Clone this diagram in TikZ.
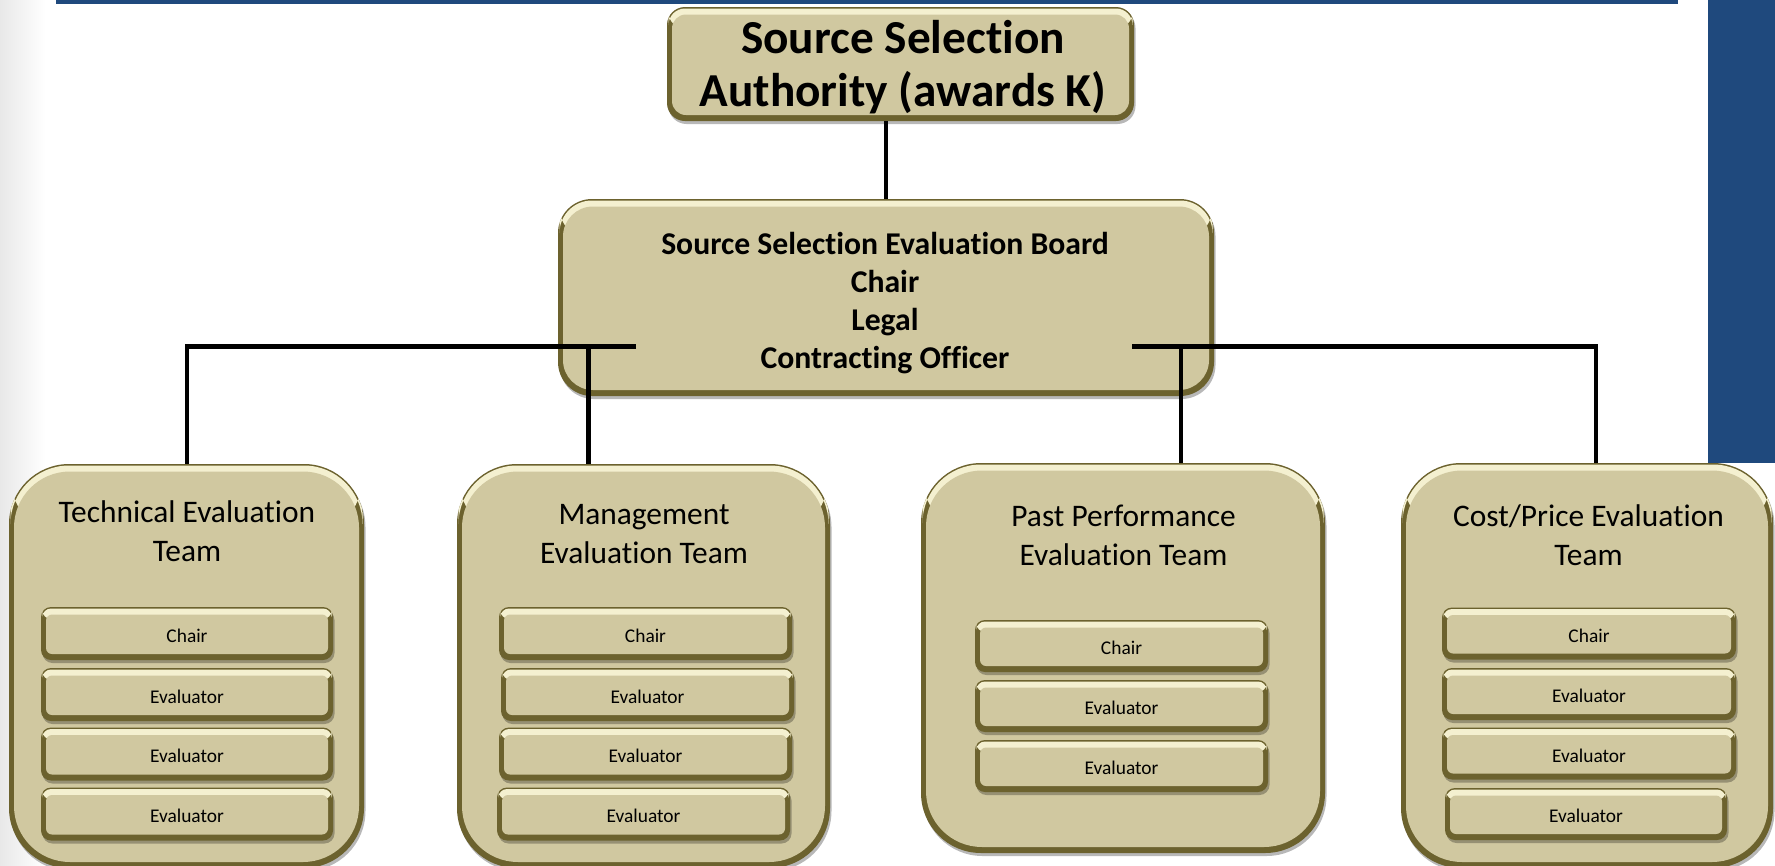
\documentclass[tikz,border=0pt]{standalone}
\usepackage{fontspec}
\setmainfont{Carlito}[Ligatures={NoCommon,NoContextual}]
\usetikzlibrary{shadows,calc}
\definecolor{tanfill}{RGB}{208,200,160}
\definecolor{edgeol}{RGB}{108,98,46}
\definecolor{hilite}{RGB}{244,240,208}
\definecolor{navy}{RGB}{31,73,125}
\tikzset{
  bevel/.style n args={3}{% #1 radius, #2 width, #3 height
    shape=rectangle, rounded corners=#1, minimum width=#2, minimum height=#3,
    inner sep=0pt, outer sep=0pt, fill=edgeol,
    drop shadow={shadow xshift=1.5pt, shadow yshift=-3pt, opacity=0.28, fill=black},
    path picture={
      \fill[hilite, rounded corners={#1-1.5pt}]
        ($(path picture bounding box.north west)+(1.5pt,-1.5pt)$) rectangle
        ($(path picture bounding box.north east)+(-1.5pt,{-min(1.2*#1,#3-8pt)})$);
      \fill[tanfill, rounded corners={#1-4pt}]
        ($(path picture bounding box.south west)+(5pt,6pt)$) rectangle
        ($(path picture bounding box.north east)+(-5pt,-7.5pt)$);
    }},
  conn/.style={line width=4.8pt, line join=miter, draw=black},
  ssafont/.style={font=\fontsize{47.3pt}{53pt}\selectfont\bfseries, align=center, inner sep=0pt},
  ssebfont/.style={font=\fontsize{31.7pt}{38pt}\selectfont\bfseries, align=center, inner sep=0pt},
  teamfont/.style={font=\fontsize{31.4pt}{38.5pt}\selectfont, align=center, inner sep=0pt},
  subbox/.style 2 args={bevel={10pt}{#1}{#2}, font=\fontsize{19.4pt}{23.7pt}\selectfont,
    text height=22pt, text depth=5pt},
}
\begin{document}
\begin{tikzpicture}[x=1pt,y=-1pt]
\useasboundingbox (0,0) rectangle (1775,865);
\clip (0,0) rectangle (1775,865);
% background
\shade[left color=black!9, right color=white] (0,0) rectangle (45,865);
\fill[navy] (56,0) rectangle (1678,4);
\fill[navy] (1708,0) rectangle (1775,463);

% top boxes
\node[bevel={18pt}{467pt}{114pt}] (ssa) at (900.5,64) {};
\node[ssafont] (ssa-t) at (903,68.9) {\strut Source Selection\\Authority (awards K)\strut};

\node[bevel={34pt}{656pt}{197pt}] (sseb) at (886,297.5) {};
\node[ssebfont] (sseb-t) at (885,303.4) {\strut Source Selection Evaluation Board\\Chair\\Legal\\Contracting Officer\strut};

% junction points of the connectors
\coordinate (busL) at (636,346.5);
\coordinate (jL) at (588.5,346.5);
\coordinate (busR) at (1132,346.5);
\coordinate (jR) at (1181,346.5);
\coordinate (jR2) at (1596,346.5);

% connectors
\draw[conn] (ssa.south -| sseb.north) -- (sseb.north);
\draw[conn] (busL) -- (187,346.5) coordinate (cL) -- (cL |- 0,464) coordinate (tL);
\draw[conn] (jL) -- (jL |- tL);
\draw[conn] (busR) -- (jR2) -- (jR2 |- tL);
\draw[conn] (jR) -- (jR |- tL);

% team boxes
\node[bevel={60pt}{355pt}{404pt}] (tech) at (186.5,666) {};
\node[bevel={60pt}{373pt}{404pt}] (mgmt) at (643.5,666) {};
\node[bevel={60pt}{404pt}{390pt}] (past) at (1123,658) {};
\node[bevel={60pt}{372pt}{405pt}] (cost) at (1587,665.5) {};

\node[teamfont] (tech-t) at (187,534.5) {\strut Technical Evaluation\\Team\strut};
\node[teamfont] (mgmt-t) at (644,536.5) {\strut Management\\Evaluation Team\strut};
\node[teamfont] (past-t) at (1123.5,538.5) {\strut Past Performance\\Evaluation Team\strut};
\node[teamfont] (cost-t) at (1588.5,538.5) {\strut Cost/Price Evaluation\\Team\strut};

% technical members
\node[subbox={292pt}{53pt}] (tech-c)  at (187,633.5) {Chair};
\node[subbox={292pt}{53pt}] (tech-e1) at (187,694.5) {Evaluator};
\node[subbox={292pt}{53pt}] (tech-e2) at (187,754) {Evaluator};
\node[subbox={292pt}{53pt}] (tech-e3) at (187,814) {Evaluator};
% management members
\node[subbox={293pt}{53pt}] (mgmt-c)  at (645.5,633.5) {Chair};
\node[subbox={293pt}{53pt}] (mgmt-e1) at (647.5,694.5) {Evaluator};
\node[subbox={293pt}{53pt}] (mgmt-e2) at (645.5,754) {Evaluator};
\node[subbox={293pt}{53pt}] (mgmt-e3) at (643.5,814) {Evaluator};
% past performance members
\node[subbox={293pt}{52pt}] (past-c)  at (1121.5,646) {Chair};
\node[subbox={293pt}{52pt}] (past-e1) at (1121.5,706) {Evaluator};
\node[subbox={293pt}{52pt}] (past-e2) at (1121.5,766) {Evaluator};
% cost members
\node[subbox={294pt}{52pt}] (cost-c)  at (1589,633.5) {Chair};
\node[subbox={294pt}{52pt}] (cost-e1) at (1589,694) {Evaluator};
\node[subbox={294pt}{52pt}] (cost-e2) at (1589,753.5) {Evaluator};
\node[subbox={282pt}{52pt}] (cost-e3) at (1586,814) {Evaluator};
\end{tikzpicture}
\end{document}
